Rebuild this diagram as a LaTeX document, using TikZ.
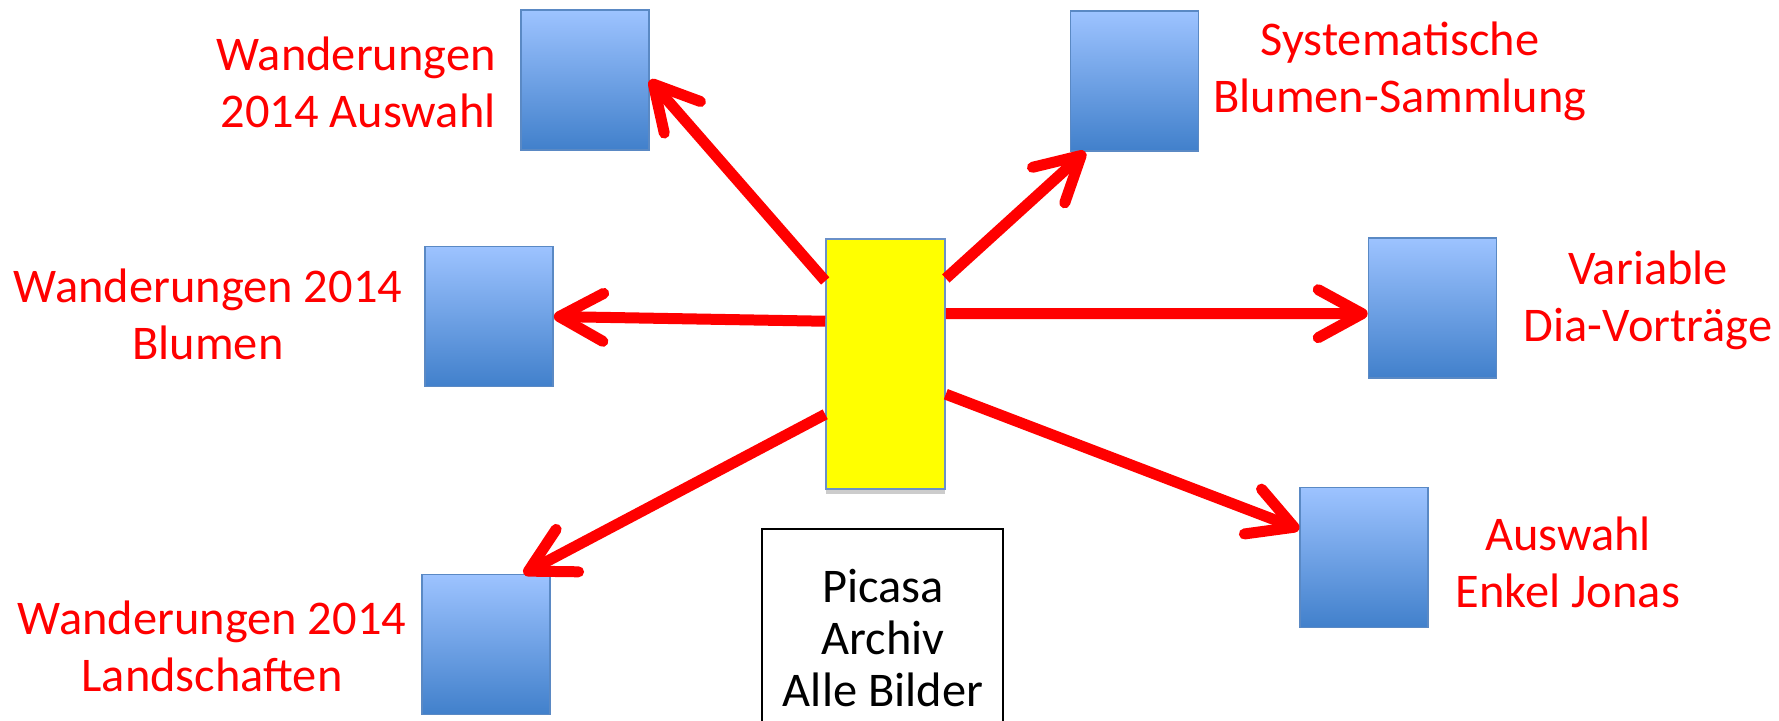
\documentclass[tikz,border=0pt]{standalone}
\usepackage{fontspec}
\setmainfont{Carlito}
\usetikzlibrary{arrows.meta,calc}
\definecolor{boxtop}{HTML}{9DC3FF}
\definecolor{boxbot}{HTML}{4180CB}
\definecolor{boxline}{HTML}{5A89C4}
\definecolor{yline}{HTML}{6A90C8}
\definecolor{yfill}{HTML}{FFFF00}
\tikzset{
  bluebox/.style={draw=boxline, line width=0.8pt, top color=boxtop, bottom color=boxbot,
    minimum width=64pt, minimum height=70pt, inner sep=0pt},
  lbl/.style={text=red, font=\fontsize{24.2}{28.5}\selectfont, align=center, inner sep=0pt},
  arr/.style={draw=red, line width=5.5pt, -{Straight Barb[length=22pt,width=24pt,round]}}
}
\begin{document}
\begin{tikzpicture}[x=0.5pt,y=-0.5pt]
\useasboundingbox (0,0) rectangle (1779,720);
\clip (0,0) rectangle (1779,720);
% blue target boxes
\node[bluebox] (A) at (585,80) {};
\node[bluebox] (B) at (1134.5,81) {};
\node[bluebox] (C) at (489,316.5) {};
\node[bluebox] (D) at (1432.5,308) {};
\node[bluebox] (E) at (486,644.5) {};
\node[bluebox] (F) at (1364,557.5) {};
% yellow centre box with shadow
\node[fill=black!20, minimum width=59.5pt, minimum height=125pt, inner sep=0pt] (Ysh) at (885.5,369) {};
\node[draw=yline, line width=0.8pt, fill=yfill, minimum width=59.5pt, minimum height=125pt, inner sep=0pt] (Y) at (885.5,364) {};
% Picasa box
\node[draw=black, line width=0.7pt, minimum width=120.5pt, minimum height=110pt, inner sep=0pt] (P) at (882.5,639) {};
\node[font=\fontsize{24.2}{26}\selectfont, align=center, inner sep=0pt] (Pt) at (883,638) {Picasa\\Archiv\\Alle Bilder};
% labels
\node[lbl, align=right, anchor=east] (LA) at (496,82) {Wanderungen\\2014 Auswahl};
\node[lbl] (LB) at (1400,71) {Systematische\\Blumen-Sammlung};
\node[lbl] (LC) at (208,314) {Wanderungen 2014\\Blumen};
\node[lbl] (LD) at (1648,300) {Variable\\Dia-Vorträge};
\node[lbl] (LE) at (212,646) {Wanderungen 2014\\Landschaften};
\node[lbl] (LF) at (1568,562) {Auswahl\\Enkel Jonas};
% arrows
\draw[arr] ($(Y.north west)!0.17!(Y.south west)$) -- (A.east);
\draw[arr] ($(Y.north east)!0.16!(Y.south east)$) -- ($(B.south west)!0.12!(B.south east)$);
\draw[arr] ($(Y.north west)!0.33!(Y.south west)$) -- (C.east);
\draw[arr] ($(Y.north east)!0.30!(Y.south east)$) -- ($(D.north west)!0.54!(D.south west)$);
\draw[arr] ($(Y.north west)!0.70!(Y.south west)$) -- ($(E.north west)!0.79!(E.north east)$);
\draw[arr] ($(Y.north east)!0.62!(Y.south east)$) -- ($(F.north west)!0.30!(F.south west)$);
\end{tikzpicture}
\end{document}
